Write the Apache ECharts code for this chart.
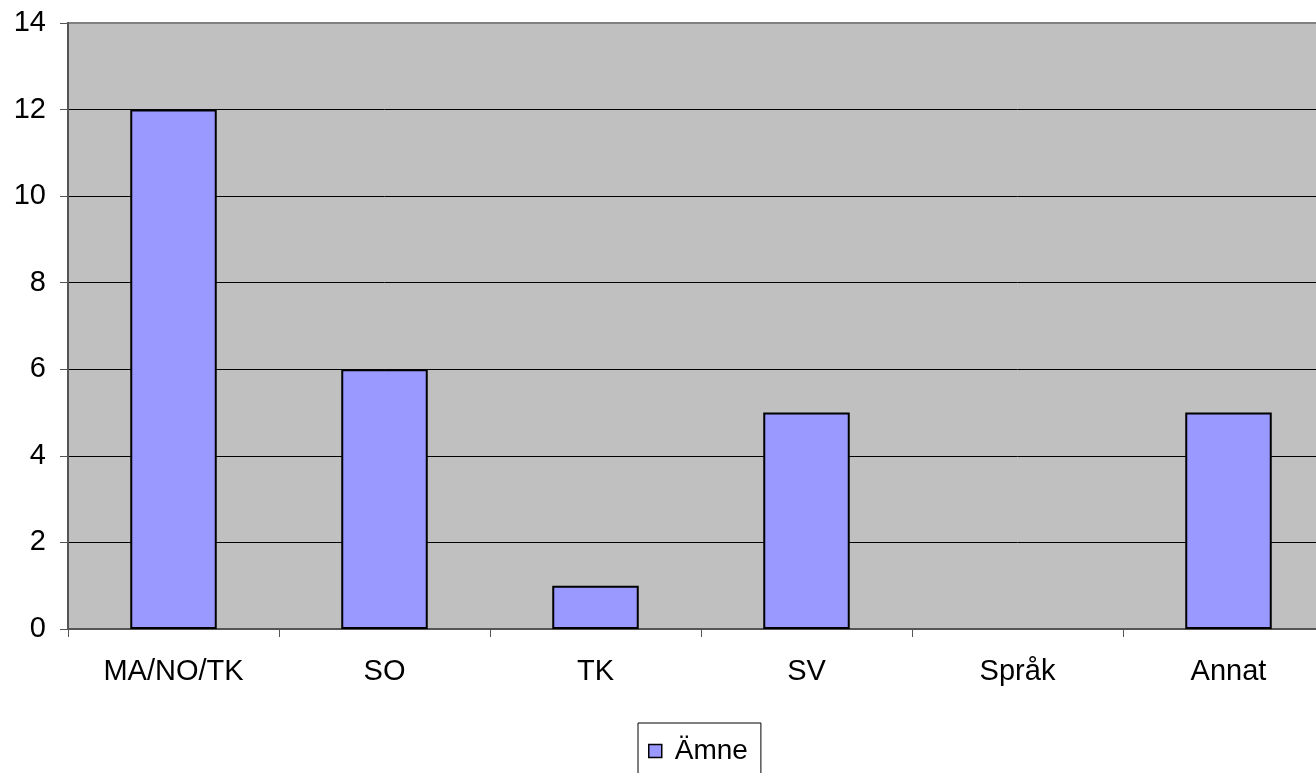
<!DOCTYPE html>
<html>
<head>
<meta charset="utf-8">
<script src="https://cdn.jsdelivr.net/npm/echarts@6/dist/echarts.min.js"></script>
<style>
html,body{margin:0;padding:0;background:#fff;overflow:hidden;width:1316px;height:773px;}
#chart{width:1334px;height:773px;}
</style>
</head>
<body>
<div id="chart"></div>
<script>
const categories = ['MA/NO/TK', 'SO', 'TK', 'SV', 'Språk', 'Annat'];
const seriesName = 'Ämne';
const values = [12, 6, 1, 5, 0, 5];
const yTicks = [0, 2, 4, 6, 8, 10, 12, 14];

const chart = echarts.init(document.getElementById('chart'));
const font = '"Liberation Sans", Arial, sans-serif';
const splitColors = yTicks.map((v, i) => i === yTicks.length - 1 ? '#808080' : '#000000');

chart.setOption({
  animation: false,
  backgroundColor: '#ffffff',
  textStyle: { fontFamily: font },
  grid: {
    left: 68, top: 23, right: 0, bottom: 144,
    show: true, backgroundColor: '#C0C0C0', borderColor: '#808080', borderWidth: 2,
    containLabel: false
  },
  legend: {
    data: [seriesName],
    left: 638, top: 723,
    orient: 'horizontal',
    borderColor: '#000', borderWidth: 1,
    padding: [14, 13, 40, 10],
    itemWidth: 13, itemHeight: 13,
    icon: 'rect',
    itemStyle: { borderColor: '#000', borderWidth: 1.5 },
    textStyle: { fontSize: 28, color: '#000', fontFamily: font, padding: [0, 0, 0, 8] }
  },
  xAxis: {
    type: 'category',
    data: categories,
    axisLine: { show: true, lineStyle: { color: '#555555', width: 2 } },
    axisTick: { show: true, alignWithLabel: false, length: 8, lineStyle: { color: '#555555', width: 1 } },
    axisLabel: { fontSize: 29, color: '#000', margin: 28, fontFamily: font },
    splitLine: { show: false }
  },
  yAxis: {
    type: 'value',
    min: 0, max: 14, interval: 2,
    axisLine: { show: true, lineStyle: { color: '#555555', width: 2 } },
    axisTick: { show: true, length: 8, lineStyle: { color: '#555555', width: 1 } },
    axisLabel: { fontSize: 29, color: '#000', margin: 22, fontFamily: font },
    splitLine: { show: true, lineStyle: { color: splitColors, width: 1 } }
  },
  series: [{
    name: seriesName,
    type: 'bar',
    data: values.map(v => v === 0 ? { value: v, itemStyle: { borderWidth: 0 } } : v),
    barWidth: '41%',
    itemStyle: { color: '#9999FF', borderColor: '#000', borderWidth: 2 }
  }]
});
</script>
</body>
</html>
